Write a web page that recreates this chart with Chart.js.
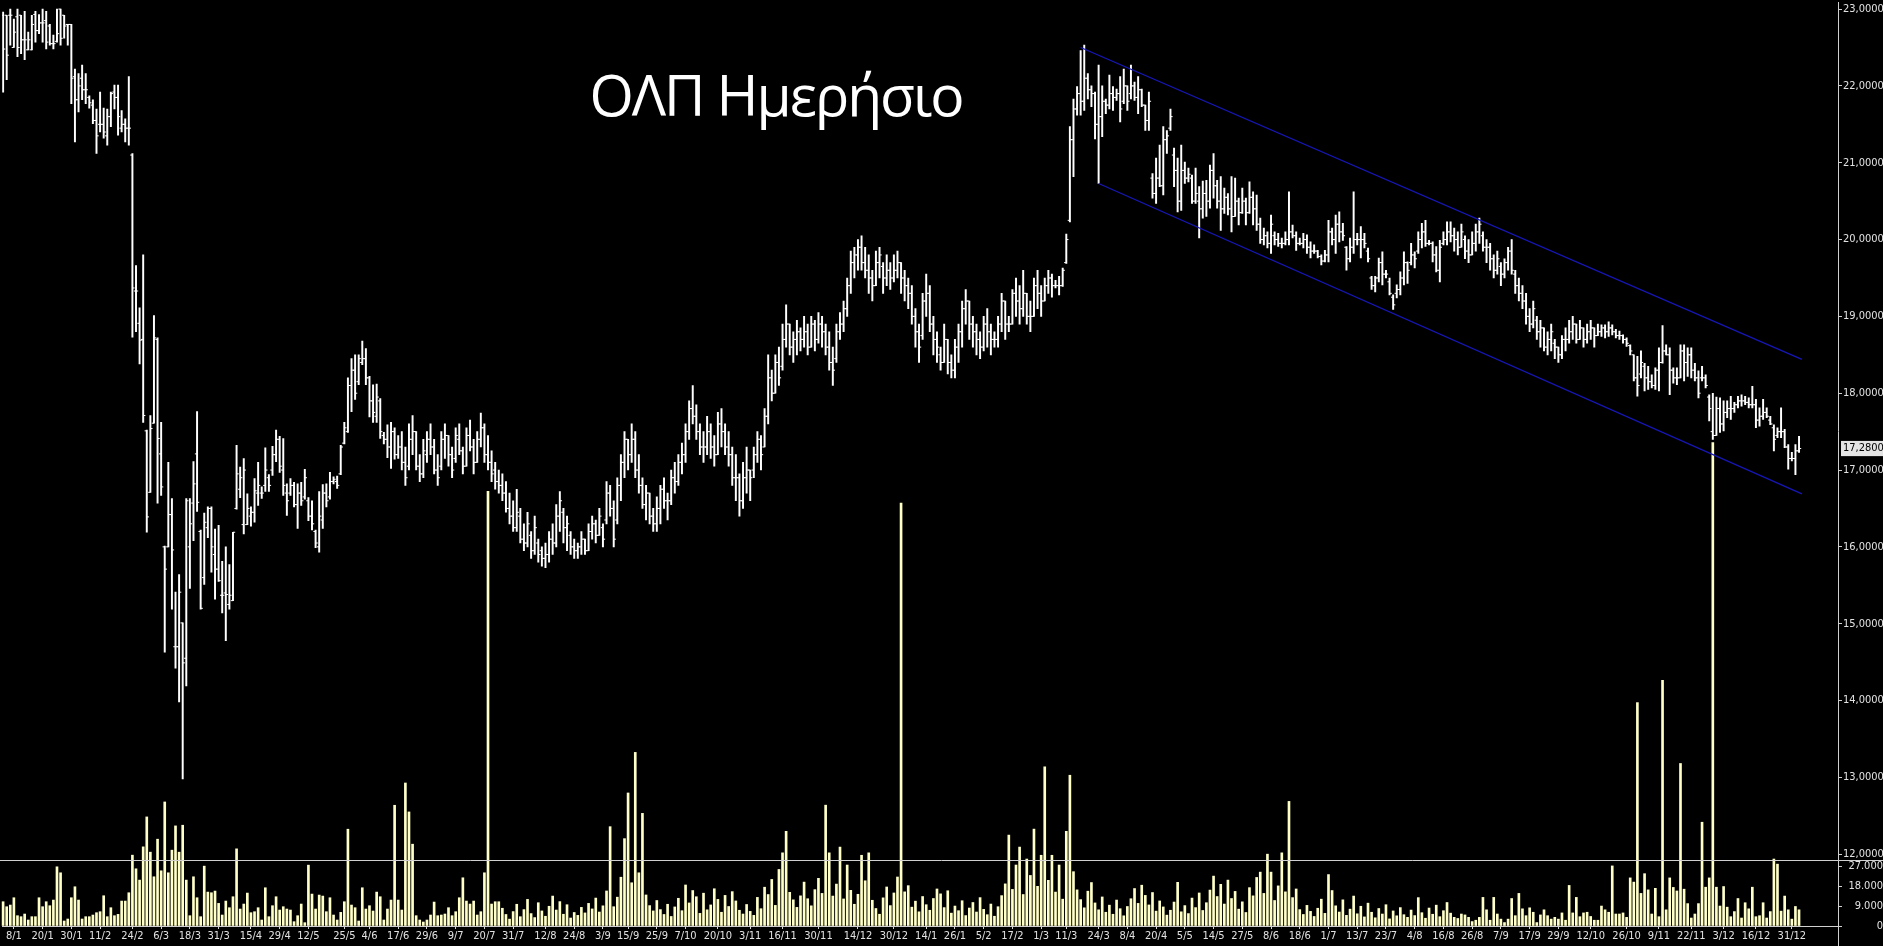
<!DOCTYPE html>
<html>
<head>
<meta charset="utf-8">
<title>ΟΛΠ Ημερήσιο</title>
<script src="https://cdn.jsdelivr.net/npm/chart.js@4.4.1/dist/chart.umd.min.js"></script>
<style>
  html, body { margin:0; padding:0; background:#000; overflow:hidden; }
  #wrap { position:relative; width:1883px; height:946px; background:#000; }
  #chart { position:absolute; left:0; top:0; }
  #title { position:absolute; left:376px; width:800px; top:66px; text-align:center; color:#fff;
           font-family:"Open Sans","Noto Sans",sans-serif; font-size:57px; line-height:57px;
           letter-spacing:-2px; white-space:nowrap; }
</style>
</head>
<body>
<div id="wrap">
  <canvas id="chart" width="1883" height="946"></canvas>
  <div id="title">ΟΛΠ Ημερήσιο</div>
</div>
<script>
// ---- axis labels ----
const tickIdx = [3,11,19,27,36,44,52,60,69,77,85,95,102,110,118,126,134,142,151,159,
  167,174,182,190,199,208,217,227,238,248,257,265,273,281,289,296,305,313,321,329,
  337,345,353,361,369,377,385,393,401,409,417,425,433,442,452,461,470,479,488,498];
const tickLabels = ['8/1','20/1','30/1','11/2','24/2','6/3','18/3','31/3','15/4','29/4',
  '12/5','25/5','4/6','17/6','29/6','9/7','20/7','31/7','12/8','24/8',
  '3/9','15/9','25/9','7/10','20/10','3/11','16/11','30/11','14/12','30/12',
  '14/1','26/1','5/2','17/2','1/3','11/3','24/3','8/4','20/4','5/5',
  '14/5','27/5','8/6','18/6','1/7','13/7','23/7','4/8','16/8','26/8',
  '7/9','17/9','29/9','12/10','26/10','9/11','22/11','3/12','16/12','31/12'];
const priceTicks = [12,13,14,15,16,17,18,19,20,21,22,23];
const volumeTicks = [0,9000,18000,27000];
const lastPrice = 17.28;
// channel lines: [bar index, price]
const upperChannel = [[300,22.50],[500.8,18.44]];
const lowerChannel = [[305,20.73],[500.8,16.69]];

// ---- daily bars ----
const highs = [
22.96,22.92,23.00,22.87,23.00,22.92,22.97,22.70,22.92,22.97,
22.93,23.00,22.97,22.80,22.66,23.00,23.00,22.92,22.80,22.80,
22.22,22.16,22.27,22.16,21.87,21.82,21.70,21.92,21.71,21.70,
21.92,22.01,22.01,21.68,21.57,22.12,21.12,19.66,19.11,19.80,
17.52,17.71,19.01,18.72,17.62,16.01,17.10,16.63,15.41,15.64,
15.01,16.63,16.63,17.11,17.76,16.22,16.44,16.52,16.52,16.23,
16.28,15.81,16.00,15.77,16.19,17.32,17.04,17.15,16.69,16.52,
16.89,17.10,16.78,17.29,16.94,17.31,17.52,17.44,17.41,16.82,
16.89,16.84,16.82,16.84,17.01,16.64,16.60,16.22,16.72,16.81,
16.82,16.97,16.91,16.92,17.32,17.62,18.20,18.45,18.50,18.50,
18.68,18.58,18.22,18.11,18.12,17.93,17.49,17.59,17.62,17.55,
17.45,17.50,17.30,17.60,17.71,17.50,17.20,17.40,17.50,17.60,
17.40,17.20,17.50,17.60,17.45,17.30,17.55,17.60,17.30,17.55,
17.65,17.40,17.50,17.74,17.60,17.45,17.25,17.10,17.00,16.95,
16.85,16.70,16.60,16.75,16.50,16.30,16.45,16.20,16.40,16.10,
16.00,16.05,16.20,16.30,16.55,16.72,16.50,16.40,16.20,16.10,
16.05,16.20,16.10,16.30,16.40,16.35,16.50,16.30,16.85,16.80,
16.60,16.90,17.20,17.50,17.40,17.60,17.50,17.20,16.90,16.80,
16.70,16.50,16.65,16.80,16.90,16.70,17.00,17.10,17.20,17.35,
17.60,17.90,18.10,17.85,17.60,17.50,17.70,17.60,17.45,17.75,
17.80,17.60,17.50,17.30,17.20,16.95,17.10,17.30,17.00,17.30,
17.50,17.45,17.80,18.50,18.30,18.50,18.60,18.90,19.15,18.90,
18.80,18.95,18.85,19.00,18.90,19.00,18.95,19.05,19.00,18.90,
18.80,18.60,18.90,19.05,19.20,19.50,19.85,19.90,20.00,20.05,
19.90,19.80,19.60,19.85,19.90,19.70,19.80,19.70,19.80,19.85,
19.70,19.60,19.50,19.40,19.10,18.90,19.30,19.55,19.40,19.00,
18.80,18.60,18.90,18.70,18.50,18.70,18.90,19.20,19.35,19.20,
19.00,18.90,18.80,19.00,19.10,18.90,18.80,19.00,19.30,19.20,
19.00,19.35,19.50,19.40,19.60,19.30,19.20,19.50,19.60,19.40,
19.50,19.60,19.55,19.47,19.52,19.63,20.07,21.47,21.83,21.99,
22.46,22.53,22.16,22.00,21.92,22.27,22.00,21.83,22.14,21.99,
21.96,22.12,22.22,22.00,22.27,22.05,22.12,21.96,21.75,21.92,
20.86,21.06,21.23,21.47,21.42,21.70,21.19,21.06,21.23,21.01,
20.93,20.84,20.93,20.69,20.76,20.77,20.97,21.12,20.77,20.82,
20.67,20.60,20.82,20.80,20.54,20.67,20.54,20.75,20.62,20.58,
20.28,20.15,20.10,20.32,20.10,20.08,20.02,20.10,20.62,20.19,
20.10,20.02,20.08,20.06,19.97,19.93,19.86,19.80,19.86,20.25,
20.15,20.32,20.36,20.21,19.91,20.02,20.62,20.08,20.17,20.08,
19.89,19.52,19.52,19.76,19.84,19.60,19.50,19.28,19.41,19.58,
19.84,19.71,19.95,19.84,20.10,20.21,20.25,19.99,19.97,19.91,
19.99,20.10,20.23,20.23,20.15,20.10,20.20,20.05,20.00,20.10,
20.20,20.28,20.10,20.00,19.95,19.80,19.85,19.70,19.75,19.90,
20.00,19.60,19.50,19.40,19.30,19.10,19.20,19.00,18.95,18.85,
18.80,18.90,18.70,18.60,18.75,18.85,18.95,19.00,18.90,18.95,
18.85,18.90,18.95,18.85,18.90,18.89,18.89,18.93,18.89,18.83,
18.81,18.76,18.72,18.63,18.50,18.48,18.55,18.39,18.35,18.24,
18.33,18.59,18.88,18.63,18.59,18.33,18.33,18.63,18.63,18.59,
18.59,18.39,18.29,18.35,18.24,17.98,18.00,17.95,17.94,17.90,
17.90,17.96,17.88,17.96,17.98,17.96,17.94,18.09,17.92,17.81,
17.92,17.81,17.70,17.59,17.55,17.81,17.53,17.33,17.23,17.33,
17.44];
const lows = [
21.92,22.08,22.53,22.50,22.38,22.42,22.34,22.47,22.47,22.57,
22.68,22.57,22.48,22.53,22.48,22.57,22.53,22.62,22.53,21.77,
21.27,21.66,21.82,21.77,21.71,21.51,21.12,21.40,21.32,21.23,
21.47,21.70,21.36,21.40,21.27,21.23,18.73,18.80,18.38,17.62,
16.19,16.71,17.61,16.57,16.67,14.63,16.00,15.19,14.42,13.98,
12.98,14.19,15.46,16.08,16.46,15.19,15.51,16.12,15.67,15.32,
15.55,15.14,14.78,15.19,15.30,16.49,16.64,16.17,16.29,16.27,
16.32,16.54,16.63,16.72,16.72,16.93,17.11,16.97,16.67,16.41,
16.67,16.52,16.24,16.54,16.62,16.34,16.22,15.99,15.93,16.24,
16.52,16.62,16.82,16.76,16.94,17.34,17.49,17.76,17.92,18.11,
18.37,18.11,17.69,17.62,17.62,17.41,17.34,17.16,17.02,17.14,
17.15,17.00,16.80,17.00,17.20,17.00,16.85,16.90,17.10,17.20,
16.95,16.80,17.00,17.15,17.05,16.90,17.10,17.20,16.95,17.05,
17.25,16.95,17.10,17.30,17.10,17.00,16.85,16.75,16.70,16.60,
16.45,16.30,16.20,16.20,16.05,15.95,16.00,15.85,15.90,15.80,
15.75,15.73,15.80,15.90,16.00,16.20,16.05,15.95,15.90,15.85,
15.85,15.90,15.90,15.95,16.10,16.05,16.15,16.00,16.30,16.40,
16.00,16.30,16.60,16.90,17.00,17.10,16.90,16.70,16.50,16.35,
16.30,16.20,16.20,16.30,16.50,16.35,16.55,16.70,16.80,16.95,
17.10,17.40,17.60,17.40,17.20,17.10,17.20,17.15,17.05,17.20,
17.30,17.20,17.05,16.80,16.60,16.40,16.50,16.70,16.60,16.90,
17.10,17.00,17.30,17.60,17.90,18.00,18.10,18.30,18.60,18.50,
18.40,18.50,18.55,18.60,18.50,18.60,18.55,18.65,18.60,18.50,
18.30,18.10,18.40,18.70,18.80,19.00,19.30,19.50,19.60,19.60,
19.50,19.30,19.20,19.40,19.50,19.30,19.40,19.35,19.45,19.50,
19.30,19.20,19.10,18.90,18.60,18.40,18.70,19.00,18.80,18.50,
18.40,18.30,18.40,18.25,18.20,18.20,18.40,18.60,18.90,18.70,
18.60,18.50,18.45,18.55,18.60,18.50,18.60,18.60,18.80,18.70,
18.80,18.90,19.00,18.90,19.00,18.90,18.80,19.00,19.10,19.00,
19.20,19.30,19.25,19.37,19.28,19.39,19.69,20.23,20.82,21.62,
21.62,21.68,21.83,21.73,21.31,20.73,21.34,21.64,21.70,21.68,
21.81,21.53,21.77,21.68,21.83,21.81,21.64,21.73,21.42,21.42,
20.54,20.47,20.69,20.58,21.12,21.42,20.69,20.36,20.38,20.73,
20.75,20.47,20.47,20.02,20.28,20.30,20.41,20.54,20.41,20.12,
20.34,20.32,20.10,20.30,20.19,20.34,20.19,20.34,20.19,20.12,
19.95,19.93,19.89,19.82,19.93,19.91,19.89,19.93,19.93,20.02,
19.86,19.93,19.89,19.82,19.76,19.82,19.76,19.67,19.71,19.71,
19.93,19.82,19.97,19.99,19.60,19.71,19.82,19.93,19.76,19.89,
19.71,19.35,19.32,19.45,19.41,19.50,19.28,19.09,19.24,19.28,
19.41,19.43,19.67,19.63,19.82,19.89,19.91,19.93,19.71,19.58,
19.45,19.93,19.93,19.97,19.85,19.80,19.90,19.75,19.70,19.80,
19.85,19.95,19.85,19.70,19.60,19.50,19.55,19.40,19.50,19.60,
19.55,19.30,19.20,19.10,18.90,18.80,18.85,18.70,18.60,18.55,
18.50,18.55,18.45,18.40,18.45,18.55,18.65,18.70,18.65,18.70,
18.60,18.65,18.70,18.60,18.75,18.74,18.72,18.74,18.76,18.72,
18.70,18.65,18.61,18.50,18.16,17.96,18.20,18.03,18.05,18.07,
18.05,18.03,18.39,18.50,17.98,18.13,18.11,18.20,18.16,18.22,
18.20,18.16,17.94,18.16,18.07,17.64,17.40,17.45,17.49,17.51,
17.68,17.66,17.75,17.81,17.83,17.85,17.81,17.81,17.55,17.57,
17.66,17.68,17.59,17.25,17.42,17.42,17.29,17.01,17.12,16.94,
17.23];
const opens = [
22.92,22.92,22.92,22.50,22.90,22.92,22.60,22.47,22.47,22.93,
22.72,22.82,22.85,22.78,22.55,22.58,23.00,22.92,22.80,22.80,
22.12,21.82,22.10,21.95,21.85,21.75,21.55,21.50,21.50,21.35,
21.60,21.92,21.85,21.45,21.50,21.45,21.10,19.33,18.91,18.70,
17.51,16.71,17.61,18.70,17.21,16.00,16.00,16.42,14.70,14.70,
15.01,14.55,16.00,16.57,17.21,16.20,15.60,16.25,16.50,15.90,
15.71,15.37,15.40,15.25,15.30,16.50,16.75,16.29,16.29,16.40,
16.45,16.70,16.70,16.80,16.90,17.00,17.20,17.40,17.00,16.70,
16.70,16.80,16.55,16.70,16.65,16.60,16.40,16.20,16.00,16.35,
16.70,16.65,16.85,16.85,16.95,17.35,17.50,18.10,18.30,18.15,
18.40,18.45,18.20,17.90,17.70,17.90,17.45,17.40,17.30,17.50,
17.20,17.30,17.10,17.05,17.40,17.50,17.05,16.95,17.20,17.40,
17.30,17.00,17.05,17.40,17.45,17.20,17.15,17.40,17.25,17.05,
17.45,17.30,17.10,17.40,17.55,17.20,17.10,17.00,16.85,16.80,
16.70,16.50,16.40,16.25,16.40,16.10,16.05,16.15,15.95,16.05,
15.95,15.85,15.90,16.10,16.05,16.40,16.45,16.25,16.15,16.00,
15.95,16.00,16.10,15.95,16.20,16.30,16.15,16.25,16.35,16.70,
16.50,16.35,16.80,17.10,17.40,17.20,17.40,17.00,16.80,16.55,
16.70,16.40,16.30,16.50,16.75,16.60,16.60,16.90,16.85,17.10,
17.20,17.50,17.80,17.70,17.50,17.30,17.30,17.50,17.30,17.20,
17.60,17.50,17.30,17.20,16.90,16.90,16.60,16.90,17.00,17.00,
17.20,17.40,17.30,17.70,18.20,18.00,18.40,18.35,18.70,18.90,
18.60,18.70,18.80,18.70,18.80,18.60,18.90,18.70,18.90,18.80,
18.60,18.40,18.45,18.80,18.90,19.10,19.40,19.70,19.80,19.90,
19.70,19.60,19.50,19.40,19.70,19.65,19.50,19.60,19.50,19.60,
19.70,19.50,19.40,19.30,19.00,18.80,18.75,19.20,19.30,18.90,
18.70,18.50,18.40,18.70,18.40,18.30,18.60,18.80,19.10,19.20,
18.90,18.80,18.70,18.60,18.90,18.80,18.70,18.70,18.90,19.20,
18.90,18.90,19.30,19.20,19.10,19.30,19.00,19.00,19.40,19.30,
19.20,19.40,19.50,19.40,19.40,19.40,19.70,20.25,21.30,21.70,
21.90,21.80,22.10,21.95,21.90,21.50,21.60,21.80,21.75,21.90,
21.85,21.90,21.80,22.00,21.90,22.00,21.85,21.95,21.75,21.55,
20.80,20.60,20.80,20.70,21.30,21.45,21.10,20.90,20.50,20.90,
20.80,20.80,20.50,20.50,20.40,20.60,20.50,20.90,20.70,20.50,
20.40,20.55,20.40,20.30,20.50,20.35,20.50,20.35,20.55,20.40,
20.20,20.00,20.05,19.95,20.05,20.00,19.95,19.95,20.00,20.10,
20.05,19.95,19.95,20.00,19.90,19.85,19.85,19.78,19.72,19.80,
20.10,20.00,20.20,20.10,19.90,19.75,19.90,20.00,20.00,20.00,
19.85,19.50,19.40,19.50,19.70,19.55,19.45,19.25,19.30,19.35,
19.50,19.70,19.70,19.80,19.85,20.00,20.10,19.95,19.95,19.80,
19.60,19.95,20.00,20.10,20.05,20.00,19.90,20.00,19.85,19.80,
19.95,20.10,20.05,19.90,19.90,19.75,19.60,19.65,19.55,19.70,
19.85,19.55,19.40,19.30,19.20,19.00,18.90,18.95,18.80,18.85,
18.60,18.70,18.65,18.60,18.50,18.70,18.70,18.80,18.90,18.70,
18.85,18.70,18.80,18.85,18.75,18.80,18.85,18.80,18.85,18.80,
18.75,18.75,18.70,18.62,18.50,18.20,18.25,18.35,18.20,18.15,
18.10,18.30,18.40,18.55,18.50,18.30,18.20,18.20,18.55,18.40,
18.50,18.30,18.20,18.20,18.20,17.95,17.50,17.45,17.80,17.60,
17.75,17.80,17.80,17.85,17.90,17.90,17.88,17.85,17.85,17.65,
17.70,17.75,17.65,17.55,17.45,17.50,17.50,17.30,17.15,17.15,
17.25];
const closes = [
22.48,22.40,22.92,22.70,22.50,22.60,22.60,22.60,22.80,22.72,
22.82,22.82,22.57,22.55,22.55,22.68,22.62,22.78,22.80,22.10,
21.82,22.00,21.95,21.95,21.78,21.55,21.35,21.50,21.40,21.60,
21.90,21.85,21.60,21.50,21.45,21.45,19.37,19.33,18.69,17.71,
16.39,17.54,18.72,17.41,16.78,15.71,16.42,15.96,14.70,15.41,
14.49,16.60,16.30,16.82,16.58,15.20,16.32,16.50,16.00,15.71,
15.56,15.37,15.38,15.37,16.19,16.95,16.90,17.00,16.50,16.45,
16.73,16.80,16.70,17.00,16.80,17.20,17.40,17.05,16.80,16.60,
16.80,16.55,16.70,16.60,16.90,16.40,16.30,16.05,16.40,16.70,
16.60,16.85,16.88,16.80,17.30,17.55,18.10,18.30,18.00,18.45,
18.45,18.20,17.90,17.75,17.95,17.50,17.40,17.30,17.50,17.20,
17.30,17.10,16.90,17.40,17.50,17.05,16.95,17.25,17.40,17.30,
17.00,16.90,17.40,17.45,17.20,17.00,17.45,17.25,17.05,17.45,
17.30,17.10,17.40,17.55,17.20,17.10,16.95,16.85,16.80,16.70,
16.50,16.40,16.25,16.45,16.10,16.05,16.30,15.95,16.25,15.90,
15.85,15.90,16.10,16.05,16.40,16.60,16.25,16.30,16.00,15.95,
16.00,16.10,15.95,16.20,16.30,16.15,16.40,16.10,16.70,16.50,
16.10,16.80,17.10,17.40,17.20,17.40,17.00,16.80,16.55,16.70,
16.40,16.30,16.50,16.75,16.60,16.60,16.90,16.85,17.10,17.20,
17.50,17.80,17.70,17.50,17.30,17.30,17.50,17.30,17.20,17.60,
17.50,17.30,17.20,16.90,16.90,16.60,16.90,17.00,16.90,17.20,
17.40,17.20,17.70,18.20,18.00,18.40,18.20,18.70,18.90,18.60,
18.70,18.80,18.70,18.80,18.60,18.90,18.70,18.90,18.80,18.60,
18.40,18.30,18.80,18.90,19.10,19.40,19.70,19.80,19.90,19.70,
19.60,19.50,19.40,19.70,19.80,19.50,19.60,19.50,19.60,19.70,
19.50,19.40,19.30,19.00,18.80,18.60,19.20,19.30,18.90,18.70,
18.60,18.40,18.70,18.40,18.30,18.60,18.80,19.10,19.20,18.90,
18.80,18.70,18.60,18.90,18.80,18.70,18.70,18.90,19.20,18.90,
18.90,19.30,19.20,19.10,19.30,19.00,19.00,19.40,19.30,19.20,
19.40,19.50,19.40,19.40,19.40,19.60,20.00,21.30,21.70,21.90,
21.80,22.10,21.95,21.90,21.50,21.60,21.80,21.75,21.90,21.85,
21.90,21.70,22.00,21.80,22.00,21.85,21.95,21.75,21.55,21.80,
20.60,20.80,20.70,21.30,21.35,21.60,20.90,20.50,20.90,20.80,
20.85,20.50,20.60,20.40,20.60,20.50,20.90,20.70,20.50,20.40,
20.55,20.40,20.30,20.50,20.35,20.50,20.35,20.55,20.40,20.20,
20.00,20.05,19.95,20.20,20.00,19.95,19.95,20.00,20.10,20.05,
19.95,19.95,20.00,19.90,19.85,19.85,19.78,19.72,19.80,20.10,
20.00,20.20,20.10,20.05,19.75,19.90,20.00,20.00,20.00,19.95,
19.75,19.40,19.50,19.70,19.55,19.55,19.30,19.15,19.35,19.50,
19.70,19.60,19.80,19.75,20.00,20.10,19.95,19.95,19.80,19.60,
19.90,20.00,20.10,20.05,20.00,19.90,20.10,19.85,19.80,19.95,
20.10,20.20,19.90,19.90,19.75,19.60,19.75,19.55,19.70,19.85,
19.60,19.40,19.30,19.20,19.00,18.90,19.10,18.80,18.85,18.60,
18.70,18.80,18.60,18.50,18.70,18.70,18.80,18.90,18.70,18.85,
18.70,18.80,18.85,18.75,18.80,18.85,18.80,18.85,18.80,18.75,
18.75,18.70,18.65,18.55,18.20,18.10,18.40,18.20,18.15,18.10,
18.30,18.40,18.55,18.50,18.30,18.20,18.20,18.55,18.40,18.50,
18.30,18.20,18.00,18.20,18.10,17.80,17.45,17.80,17.60,17.75,
17.80,17.80,17.85,17.90,17.90,17.88,17.85,17.85,17.65,17.70,
17.75,17.70,17.60,17.40,17.50,17.50,17.30,17.15,17.15,17.25,
17.28];
const volumes = [
10950,8700,9450,12750,4650,4200,5400,2700,4200,4200,
12750,8700,10950,9150,11700,26700,24000,2250,3150,12750,
17700,11700,3150,4200,4200,4950,6000,6450,13650,4200,
8250,4650,5250,11250,11250,15000,31950,25800,20700,35700,
49200,33300,22200,39150,24900,55950,24000,34200,45150,33300,
45450,20700,4650,22200,12750,4200,27000,15300,15000,15750,
10200,4950,11250,8250,13200,34800,7650,9900,14850,6000,
6450,8250,2700,17250,4200,9150,13200,7200,8700,7650,
7200,1950,4650,9900,1500,27450,14400,7650,13950,13500,
6450,12750,4950,2700,6150,10950,43650,9450,8250,2250,
17250,7650,9150,6750,15300,13200,2700,7650,11700,54450,
11700,7200,64500,51450,36900,4650,2700,1800,2700,4950,
10800,4650,4950,5400,8250,4650,6450,12750,21750,11250,
9900,11250,4950,6450,24000,196000,9900,10950,10950,8000,
5200,3100,6500,9800,4200,7400,12000,5600,3800,10500,
6800,4400,8900,13500,7200,11000,5300,9600,3600,6100,
4800,8400,5900,10200,7700,12600,6300,9100,15800,44800,
8700,13000,22000,39400,60000,19500,78300,24000,50800,14000,
9200,6800,11500,7400,5200,9800,4300,8600,12500,6900,
18500,10400,16000,13200,5700,14800,7300,9500,16800,12000,
6200,13800,8800,15500,11300,7100,5400,9700,6600,4800,
12900,7800,17500,14200,21000,9300,25500,33000,42700,15200,
11800,8400,13600,19800,12300,9100,16400,21500,14700,54500,
33000,13500,18900,35600,12200,27500,16100,9800,14300,31900,
20400,33000,11600,7900,5300,12700,17600,9200,14900,22100,
190800,15400,18200,8500,11200,6400,13300,9600,7100,12400,
16700,14500,8300,15900,5800,9000,6900,11400,4700,8100,
10600,6300,12800,7500,5100,9900,4400,8700,13700,19000,
41000,16500,27500,35600,14200,30200,22800,43700,17900,31900,
71800,20600,31900,15300,27500,12100,42700,68000,24500,16300,
11900,8200,15700,19600,10400,7300,13100,6200,9400,5300,
11700,7800,4600,8800,12300,16900,10200,18400,13800,9500,
15100,6700,11300,8600,4900,7100,10800,19700,6400,9200,
5600,12600,8300,14900,7000,10500,16200,22500,13300,18800,
9900,20700,12400,15600,7600,10900,6100,17300,13600,21900,
24300,14700,32400,24300,11500,18100,33000,15400,56200,12800,
16700,7400,5200,9300,6600,4300,8000,12100,5700,23200,
16000,9100,6300,11800,4800,7600,13500,5500,8900,4100,
10300,6200,3700,7900,5400,9600,3200,6800,4600,8300,
5100,3900,7200,4700,12800,6000,3500,8100,5300,9400,
4200,6900,10600,5800,3900,3400,5400,5000,3900,2000,
2600,3900,12900,7300,2600,12900,5400,3100,1550,3100,
12400,4650,14700,7750,4650,8200,6200,1550,5000,7300,
4650,3100,3900,3100,5900,2600,18300,5900,12900,4200,
5900,6200,4300,2600,2600,9000,7300,6200,27100,5400,
5400,5900,3900,21700,19800,100750,14700,23600,16300,5400,
17000,4200,110800,7300,21700,17400,15800,73300,16600,10100,
3600,5400,10100,46800,17500,21700,218000,17500,9000,17800,
8500,4200,6500,12400,3600,10500,7750,17500,4200,4650,
10500,3600,6500,30200,27900,6700,13500,7300,3100,8800,
7300];

// ---- styling constants ----
const FONT = '"DejaVu Sans Condensed", "DejaVu Sans", sans-serif';
const TXT = '#e2e2e2';
const AXIS = '#d0d0d0';
const CHANNEL = '#1616b8';
const TICK_OFF = 0.3;          // open/close tick offset, in bar units
const X_MIN = -0.28, X_MAX = 510.85;
const PRICE_MIN = 11.922, PRICE_MAX = 23.0909;
const VOL_MAX = 29700;

const clampP = (v, i) => Math.min(highs[i], Math.max(lows[i], v));
const fmtPrice = v => v.toFixed(4).replace('.', ',');
const fmtVol = v => String(Math.round(v)).replace(/\B(?=(\d{3})+(?!\d))/g, '.');

const framePlugin = {
  id: 'frame',
  afterDraw(chart) {
    const ctx = chart.ctx, a = chart.chartArea, yv = chart.scales.yv;
    ctx.save();
    ctx.strokeStyle = AXIS;
    ctx.lineWidth = 1;
    const ys = Math.round(yv.top) + 0.5;
    ctx.beginPath(); ctx.moveTo(0, ys); ctx.lineTo(chart.width, ys); ctx.stroke();
    const xr = Math.round(a.right) + 0.5;
    ctx.beginPath(); ctx.moveTo(xr, a.bottom); ctx.lineTo(xr, chart.height); ctx.stroke();
    ctx.restore();
  }
};

const zeroPad = s => { s.paddingTop = 0; s.paddingBottom = 0; s.paddingLeft = 0; s.paddingRight = 0; };

new Chart(document.getElementById('chart'), {
  type: 'bar',
  data: {
    datasets: [
      { type: 'line', data: upperChannel.map(p => ({x: p[0], y: p[1]})), borderColor: CHANNEL,
        borderWidth: 1.3, pointRadius: 0, fill: false, tension: 0, yAxisID: 'y', order: 0 },
      { type: 'line', data: lowerChannel.map(p => ({x: p[0], y: p[1]})), borderColor: CHANNEL,
        borderWidth: 1.3, pointRadius: 0, fill: false, tension: 0, yAxisID: 'y', order: 0 },
      { type: 'line', data: opens.map((o, i) => ({x: i - TICK_OFF, y: clampP(o, i)})), showLine: false,
        pointStyle: 'line', pointRadius: 1.1, pointHoverRadius: 0, pointBorderColor: '#ffffff',
        pointBorderWidth: 1, yAxisID: 'y', order: 1 },
      { type: 'line', data: closes.map((c, i) => ({x: i + TICK_OFF, y: clampP(c, i)})), showLine: false,
        pointStyle: 'line', pointRadius: 1.1, pointHoverRadius: 0, pointBorderColor: '#ffffff',
        pointBorderWidth: 1, yAxisID: 'y', order: 1 },
      { type: 'bar', data: highs.map((h, i) => ({x: i, y: [lows[i], h]})), backgroundColor: '#ffffff',
        barThickness: 1.3, grouped: false, yAxisID: 'y', order: 2 },
      { type: 'bar', data: volumes.map((v, i) => ({x: i, y: v})), backgroundColor: '#ffffc8',
        barThickness: 2, grouped: false, yAxisID: 'yv', order: 3, clip: false }
    ]
  },
  options: {
    responsive: false,
    animation: false,
    events: [],
    layout: { padding: 0 },
    plugins: { legend: { display: false }, tooltip: { enabled: false }, title: { display: false } },
    scales: {
      x: {
        type: 'linear', position: 'bottom', min: X_MIN, max: X_MAX, offset: false,
        afterFit(s) { s.height = 20; zeroPad(s); },
        afterBuildTicks(s) { s.ticks = tickIdx.map(v => ({value: v})); },
        ticks: { autoSkip: false, maxRotation: 0, minRotation: 0, padding: 1, color: TXT,
                 font: { family: FONT, size: 11 },
                 callback: v => { const k = tickIdx.indexOf(v); return k < 0 ? '' : tickLabels[k]; } },
        grid: { offset: false, drawOnChartArea: false, drawTicks: true, tickLength: 3, color: AXIS },
        border: { display: true, color: AXIS, width: 1 }
      },
      y: {
        type: 'linear', position: 'right', stack: 'right', stackWeight: 860,
        min: PRICE_MIN, max: PRICE_MAX,
        afterFit(s) { s.width = 45; zeroPad(s); },
        afterBuildTicks(s) { s.ticks = priceTicks.concat([lastPrice]).map(v => ({value: v})); },
        ticks: { autoSkip: false, padding: 1, font: { family: FONT, size: 11 },
                 color: c => (c.tick && c.tick.value === lastPrice) ? '#000000' : TXT,
                 showLabelBackdrop: c => !!(c.tick && c.tick.value === lastPrice),
                 backdropColor: '#e4e4e4',
                 backdropPadding: { top: 1, bottom: 1, left: 2, right: 4 },
                 callback: v => fmtPrice(v) },
        grid: { drawOnChartArea: false, drawTicks: true, tickLength: 4,
                tickColor: c => (c.tick && c.tick.value === lastPrice) ? 'rgba(0,0,0,0)' : AXIS },
        border: { display: true, color: AXIS, width: 1 }
      },
      yv: {
        type: 'linear', position: 'right', stack: 'right', stackWeight: 66,
        min: 0, max: VOL_MAX,
        afterFit(s) { s.width = 45; zeroPad(s); },
        afterBuildTicks(s) { s.ticks = volumeTicks.map(v => ({value: v})); },
        ticks: { autoSkip: false, padding: 4, crossAlign: 'far', color: TXT,
                 font: { family: FONT, size: 11 }, callback: v => fmtVol(v) },
        grid: { drawOnChartArea: false, drawTicks: true, tickLength: 4, tickColor: AXIS },
        border: { display: true, color: AXIS, width: 1 }
      }
    }
  },
  plugins: [framePlugin]
});
</script>
</body>
</html>
